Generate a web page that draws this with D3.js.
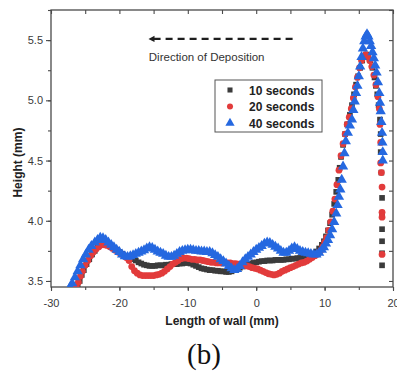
<!DOCTYPE html>
<html>
<head>
<meta charset="utf-8">
<script src="https://cdn.jsdelivr.net/npm/d3@7/dist/d3.min.js"></script>
<style>
  html, body { margin: 0; padding: 0; background: #fff; }
  svg { display: block; font-family: "Liberation Sans", Arial, sans-serif; }
</style>
</head>
<body>
<svg id="chart" width="397" height="372"></svg>
<script>
// [length of wall (mm), height (mm)]
const sec10 = [
  [-26.1,3.45],[-25.8,3.50],[-25.5,3.55],[-25.2,3.59],[-24.8,3.64],[-24.4,3.68],[-24.0,3.72],[-23.6,3.75],
  [-23.2,3.78],[-22.8,3.805],[-22.4,3.82],[-22.0,3.815],[-21.6,3.80],[-21.2,3.79],[-20.8,3.775],[-20.4,3.76],
  [-20.0,3.74],[-19.6,3.725],[-19.2,3.71],[-18.8,3.70],[-18.4,3.69],[-18.0,3.68],[-17.6,3.67],[-17.2,3.655],
  [-16.8,3.645],[-16.4,3.635],[-16.0,3.63],[-15.6,3.625],[-15.2,3.625],[-14.8,3.625],[-14.4,3.63],[-14.0,3.63],
  [-13.6,3.63],[-13.2,3.635],[-12.8,3.635],[-12.4,3.64],[-12.0,3.64],[-11.6,3.64],[-11.2,3.645],[-10.8,3.645],
  [-10.4,3.65],[-10.0,3.65],[-9.6,3.645],[-9.2,3.635],[-8.8,3.625],[-8.4,3.615],[-8.0,3.605],[-7.6,3.60],
  [-7.2,3.595],[-6.8,3.59],[-6.4,3.59],[-6.0,3.585],[-5.6,3.585],[-5.2,3.58],[-4.8,3.58],[-4.4,3.575],
  [-4.0,3.575],[-3.6,3.58],[-3.2,3.59],[-2.8,3.60],[-2.4,3.61],[-2.0,3.62],[-1.6,3.63],[-1.2,3.64],
  [-0.8,3.645],[-0.4,3.65],[0.0,3.655],[0.4,3.66],[0.8,3.665],[1.2,3.665],[1.6,3.67],[2.0,3.67],
  [2.4,3.67],[2.8,3.675],[3.2,3.675],[3.6,3.675],[4.0,3.675],[4.4,3.68],[4.8,3.68],[5.2,3.685],
  [5.6,3.685],[6.0,3.69],[6.4,3.69],[6.8,3.695],[7.2,3.695],[7.6,3.70],[8.0,3.71],[8.4,3.725],
  [8.8,3.745],[9.2,3.77],[9.6,3.80],[9.9,3.83],[10.2,3.87],[10.5,3.92],[10.8,3.98],[11.1,4.05],
  [11.4,4.14],[11.7,4.24],[12.0,4.34],[12.2,4.44],[12.4,4.53],[12.7,4.63],[13.0,4.72],[13.3,4.80],
  [13.7,4.88],[14.0,4.96],[14.3,5.05],[14.6,5.13],[14.9,5.20],[15.2,5.27],[15.5,5.33],[15.8,5.36],
  [16.1,5.38],[16.4,5.37],[16.7,5.33],[17.0,5.27],[17.3,5.19],[17.5,5.12],[17.7,5.05],[17.9,4.96],
  [18.1,4.84],[18.2,4.72],[18.2,4.57],[18.3,4.40],[18.4,4.19],[18.4,4.06],[18.4,3.93],[18.4,3.83],
  [18.4,3.73],[18.4,3.63]
];

const sec20 = [
  [-26.3,3.45],[-26.0,3.49],[-25.7,3.54],[-25.4,3.58],[-25.0,3.63],[-24.6,3.67],[-24.2,3.71],[-23.8,3.74],
  [-23.4,3.765],[-23.0,3.785],[-22.6,3.80],[-22.2,3.80],[-21.8,3.795],[-21.4,3.785],[-21.0,3.77],[-20.6,3.755],
  [-20.2,3.74],[-19.8,3.725],[-19.4,3.71],[-19.0,3.695],[-18.6,3.67],[-18.2,3.62],[-17.8,3.585],[-17.4,3.565],
  [-17.0,3.55],[-16.6,3.545],[-16.2,3.545],[-15.8,3.545],[-15.4,3.545],[-15.0,3.545],[-14.6,3.55],[-14.2,3.555],
  [-13.8,3.565],[-13.4,3.58],[-13.0,3.60],[-12.6,3.62],[-12.2,3.64],[-11.8,3.655],[-11.4,3.67],[-11.0,3.685],
  [-10.6,3.69],[-10.2,3.69],[-9.8,3.685],[-9.4,3.68],[-9.0,3.68],[-8.6,3.675],[-8.2,3.675],[-7.8,3.67],
  [-7.4,3.665],[-7.0,3.66],[-6.6,3.655],[-6.2,3.655],[-5.8,3.65],[-5.4,3.65],[-5.0,3.65],[-4.6,3.65],
  [-4.2,3.65],[-3.8,3.65],[-3.4,3.645],[-3.0,3.645],[-2.6,3.64],[-2.2,3.635],[-1.8,3.63],[-1.4,3.625],
  [-1.0,3.62],[-0.6,3.61],[-0.2,3.605],[0.2,3.60],[0.6,3.59],[1.0,3.58],[1.4,3.57],[1.8,3.56],
  [2.2,3.555],[2.6,3.55],[3.0,3.555],[3.4,3.565],[3.8,3.58],[4.2,3.59],[4.6,3.60],[5.0,3.61],
  [5.4,3.62],[5.8,3.63],[6.2,3.64],[6.6,3.65],[7.0,3.655],[7.4,3.665],[7.8,3.68],[8.2,3.695],
  [8.6,3.71],[9.0,3.725],[9.4,3.75],[9.7,3.78],[10.0,3.82],[10.3,3.86],[10.6,3.92],[10.9,3.99],
  [11.2,4.08],[11.5,4.18],[11.8,4.30],[12.1,4.42],[12.4,4.54],[12.7,4.64],[13.0,4.72],[13.3,4.80],
  [13.6,4.86],[13.9,4.93],[14.2,5.02],[14.5,5.11],[14.8,5.19],[15.1,5.27],[15.4,5.33],[15.7,5.36],
  [16.0,5.38],[16.3,5.37],[16.6,5.33],[16.9,5.28],[17.2,5.21],[17.5,5.13],[17.8,5.03],[18.0,4.93],
  [18.1,4.80],[18.2,4.65],[18.2,4.48],[18.3,4.40],[18.4,4.28],[18.4,4.07],[18.4,4.03],[18.4,3.72]
];

const sec40 = [
  [-27.2,3.45],[-26.9,3.48],[-26.5,3.53],[-26.1,3.58],[-25.7,3.63],[-25.3,3.68],[-24.9,3.72],[-24.5,3.76],
  [-24.1,3.79],[-23.6,3.82],[-23.2,3.84],[-22.8,3.86],[-22.4,3.855],[-22.0,3.84],[-21.6,3.82],[-21.2,3.80],
  [-20.8,3.78],[-20.4,3.76],[-20.0,3.74],[-19.6,3.72],[-19.2,3.705],[-18.8,3.70],[-18.4,3.705],[-18.0,3.715],
  [-17.6,3.725],[-17.2,3.735],[-16.8,3.745],[-16.4,3.755],[-16.0,3.77],[-15.6,3.78],[-15.2,3.775],[-14.8,3.76],
  [-14.4,3.745],[-14.0,3.735],[-13.6,3.725],[-13.2,3.71],[-12.8,3.70],[-12.4,3.70],[-12.0,3.71],[-11.6,3.725],
  [-11.2,3.74],[-10.8,3.75],[-10.4,3.755],[-10.0,3.76],[-9.6,3.76],[-9.2,3.755],[-8.8,3.75],[-8.4,3.75],
  [-8.0,3.745],[-7.6,3.745],[-7.2,3.74],[-6.8,3.74],[-6.4,3.73],[-6.0,3.715],[-5.6,3.70],[-5.2,3.68],
  [-4.8,3.665],[-4.4,3.645],[-4.0,3.625],[-3.6,3.605],[-3.2,3.59],[-2.8,3.60],[-2.4,3.625],[-2.0,3.655],
  [-1.6,3.68],[-1.2,3.70],[-0.8,3.72],[-0.4,3.74],[0.0,3.76],[0.4,3.775],[0.8,3.79],[1.2,3.81],
  [1.6,3.82],[2.0,3.815],[2.4,3.80],[2.8,3.785],[3.2,3.77],[3.6,3.75],[4.0,3.735],[4.4,3.735],
  [4.8,3.75],[5.2,3.77],[5.6,3.78],[6.0,3.765],[6.4,3.75],[6.8,3.74],[7.2,3.735],[7.6,3.73],
  [8.0,3.725],[8.4,3.72],[8.8,3.72],[9.2,3.735],[9.6,3.76],[9.9,3.78],[10.2,3.81],[10.5,3.84],
  [10.8,3.88],[11.1,3.93],[11.4,3.99],[11.7,4.06],[11.9,4.13],[12.1,4.20],[12.3,4.26],[12.5,4.34],
  [12.7,4.45],[12.9,4.56],[13.1,4.66],[13.4,4.73],[13.7,4.79],[14.0,4.84],[14.2,4.92],[14.4,4.99],
  [14.6,5.06],[14.8,5.12],[15.0,5.20],[15.2,5.28],[15.4,5.36],[15.6,5.43],[15.8,5.49],[16.0,5.53],
  [16.2,5.55],[16.4,5.53],[16.6,5.49],[16.8,5.45],[17.0,5.40],[17.2,5.35],[17.4,5.29],[17.6,5.23],
  [17.8,5.15],[18.0,5.06],[18.1,4.98],[18.2,4.91],[18.3,4.82],[18.4,4.73],[18.45,4.65],[18.5,4.57],
  [18.5,4.50]
];

const seriesNames = ["10 seconds", "20 seconds", "40 seconds"];
const xTicks = [-30, -20, -10, 0, 10, 20];
const yTicks = [3.5, 4.0, 4.5, 5.0, 5.5];

const svg = d3.select("#chart");
const margin = { top: 10, right: 4, bottom: 85, left: 51 };
const W = 397, H = 372;
const width = W - margin.left - margin.right;
const height = H - margin.top - margin.bottom;

const x = d3.scaleLinear().domain([-30, 20]).range([margin.left, margin.left + width]);
const y = d3.scaleLinear().domain([3.45, 5.75]).range([margin.top + height, margin.top]);

const axisColor = "#4a4a4a";
const styleAxis = g => {
  g.select(".domain").remove();
  g.selectAll("line").attr("stroke", axisColor).attr("stroke-width", 1.1);
  g.selectAll("text").attr("fill", "#3a3a3a").style("font-size", "11px");
};

// minor ticks
const xMinor = d3.range(-30, 20.01, 5);
const yMinor = d3.range(3.5, 5.76, 0.25);

svg.append("g").attr("transform", `translate(0,${margin.top + height})`)
  .call(d3.axisBottom(x).tickValues(xMinor).tickSize(3).tickFormat(""))
  .call(styleAxis);
svg.append("g").attr("transform", `translate(0,${margin.top + height})`)
  .call(d3.axisBottom(x).tickValues(xTicks).tickSize(4).tickPadding(8).tickFormat(d => String(d)))
  .call(styleAxis);
svg.append("g").attr("transform", `translate(${margin.left},0)`)
  .call(d3.axisLeft(y).tickValues(yMinor).tickSize(3).tickFormat(""))
  .call(styleAxis);
svg.append("g").attr("transform", `translate(${margin.left},0)`)
  .call(d3.axisLeft(y).tickValues(yTicks).tickSize(5).tickPadding(3).tickFormat(d3.format(".1f")))
  .call(styleAxis);
svg.append("g").attr("transform", `translate(0,${margin.top})`)
  .call(d3.axisTop(x).tickValues(xMinor).tickSize(-4).tickFormat(""))
  .call(styleAxis);
svg.append("g").attr("transform", `translate(${margin.left + width},0)`)
  .call(d3.axisRight(y).tickValues(yMinor).tickSize(-4).tickFormat(""))
  .call(styleAxis);

svg.append("rect")
  .attr("x", margin.left).attr("y", margin.top)
  .attr("width", width).attr("height", height)
  .attr("fill", "none").attr("stroke", axisColor).attr("stroke-width", 1.3);

svg.append("clipPath").attr("id", "plot").append("rect")
  .attr("x", margin.left).attr("y", margin.top).attr("width", width).attr("height", height);

const series = [
  { name: seriesNames[0], data: sec10, symbol: d3.symbolSquare, size: 32, color: "#3b3b3b" },
  { name: seriesNames[1], data: sec20, symbol: d3.symbolCircle, size: 36, color: "#e23b3b" },
  { name: seriesNames[2], data: sec40, symbol: d3.symbolTriangle, size: 46, color: "#2568e0" }
];

const marks = svg.append("g").attr("clip-path", "url(#plot)");
series.forEach(s => {
  marks.append("g")
    .selectAll("path")
    .data(s.data)
    .join("path")
    .attr("transform", d => `translate(${x(d[0])},${y(d[1])})`)
    .attr("d", d3.symbol().type(s.symbol).size(s.size))
    .attr("fill", s.color);
});

// axis titles
svg.append("text")
  .attr("x", x(-5)).attr("y", 325)
  .attr("text-anchor", "middle")
  .style("font-size", "12px").style("font-weight", "bold").attr("fill", "#222")
  .text("Length of wall (mm)");

svg.append("text")
  .attr("transform", `translate(22,${y(4.5) + 2}) rotate(-90)`)
  .attr("text-anchor", "middle")
  .style("font-size", "12px").style("font-weight", "bold").attr("fill", "#222")
  .text("Height (mm)");

// direction annotation
const arrowY = y(5.51);
svg.append("line")
  .attr("x1", x(-15.0)).attr("x2", x(5.6))
  .attr("y1", arrowY).attr("y2", arrowY)
  .attr("stroke", "#1e1e1e").attr("stroke-width", 2.4)
  .attr("stroke-dasharray", "7,5");
svg.append("path")
  .attr("d", `M${x(-15.75)},${arrowY} l6,-3.2 l0,6.4 z`)
  .attr("fill", "#1e1e1e");
svg.append("text")
  .attr("x", x(-15.7)).attr("y", y(5.325))
  .style("font-size", "11.5px").attr("fill", "#333")
  .text("Direction of Deposition");

// legend
const legend = svg.append("g").attr("transform", "translate(215,80)");
legend.append("rect")
  .attr("width", 107).attr("height", 52)
  .attr("fill", "#fff").attr("stroke", "#555").attr("stroke-width", 1);
series.forEach((s, i) => {
  const row = legend.append("g").attr("transform", `translate(15,${10 + i * 16.5})`);
  row.append("path")
    .attr("d", d3.symbol().type(s.symbol).size(s.size * 0.8))
    .attr("fill", s.color);
  row.append("text")
    .attr("x", 19).attr("y", 4.5)
    .style("font-size", "12px").style("font-weight", "bold").attr("fill", "#222")
    .text(s.name);
});

// panel label
svg.append("text")
  .attr("x", 204).attr("y", 364)
  .attr("text-anchor", "middle")
  .style("font-family", "'Liberation Serif', 'Times New Roman', serif")
  .style("font-size", "29px").attr("fill", "#111")
  .text("(b)");
</script>
</body>
</html>
